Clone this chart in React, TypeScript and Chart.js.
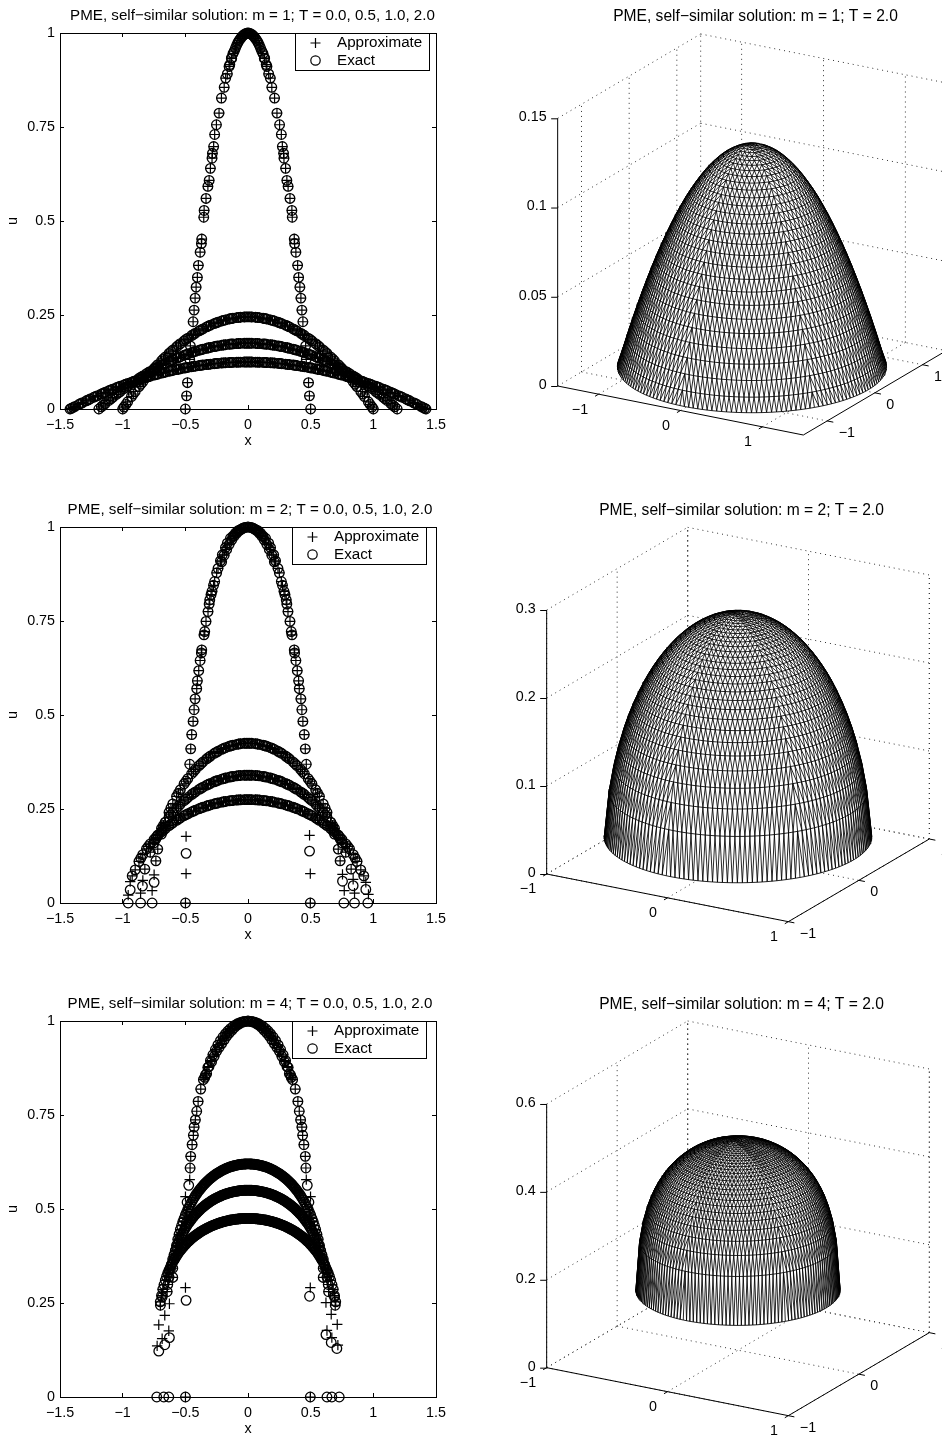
import React, { useEffect, useRef } from "react";
import { Chart, registerables } from "chart.js";

Chart.register(...registerables);
Chart.defaults.font.family = "'Liberation Sans', Arial, sans-serif";
Chart.defaults.color = "#000";

const FONT_PX = 14.3;
const xTicks2D = [-1.5, -1, -0.5, 0, 0.5, 1, 1.5];
const yTicks2D = [0, 0.25, 0.5, 0.75, 1];
const fmt = (v: number) => String(v).replace("-", "\u2212");

// ---------- m = 1 ----------
const m1GridX = [0,.03,.06,.09,.12,.15,.18,.21,.24,.27,.3,.33,.36,.39,.42,.45,.48,.51,.54,.57,.6,.63,.66,.69,.72,.75,.78,.81,.84,.87,.9,.93,.96,.99,1.02,1.05,1.08,1.11,1.14,1.17,1.2,1.23,1.26,1.29,1.32,1.35,1.38,1.41];
const m1T05 = [.245,.2448,.2441,.243,.2415,.2395,.2371,.2342,.2309,.2271,.223,.2183,.2132,.2077,.2018,.1954,.1886,.1813,.1736,.1654,.1568,.1478,.1383,.1283,.118,.1072,.0959,.0843,.0721,.0596,.0466,.0331,.0192,.0049];
const m1T1 = [.175,.1749,.1746,.174,.1732,.1722,.171,.1695,.1679,.166,.1639,.1615,.159,.1562,.1532,.15,.1465,.1429,.139,.1348,.1305,.1259,.1212,.1162,.1109,.1055,.0998,.0939,.0878,.0814,.0749,.0681,.0611,.0539,.0464,.0387,.0308,.0227,.0144,.0058];
const m1T2 = [.125,.1249,.1248,.1245,.1241,.1236,.123,.1223,.1214,.1205,.1194,.1182,.117,.1156,.1141,.1124,.1107,.1089,.1069,.1049,.1027,.1004,.098,.0955,.0929,.0901,.0873,.0843,.0813,.0781,.0748,.0714,.0679,.0642,.0605,.0566,.0527,.0486,.0444,.0401,.0357,.0312,.0266,.0218,.017,.012,.0069,.0017];
const m1Edges = [1.0, 1.19, 1.42];
const m1MidX = [.015,.075,.135,.195,.255,.315,.375,.435,.495,.555,.615,.675,.735,.795,.855,.915,.975,1.035,1.095,1.155,1.215,1.275,1.335,1.395];
const m1T05Mid = [.2449,.2436,.2405,.2357,.229,.2207,.2105,.1986,.185,.1695,.1523,.1333,.1126,.0901,.0659,.0399,.012];
const m1T1Mid = [.175,.1743,.1727,.1703,.167,.1627,.1576,.1516,.1447,.1369,.1282,.1187,.1082,.0969,.0846,.0715,.0575,.0426,.0268,.0101];
const m1T2Mid = [.125,.1247,.1239,.1227,.121,.1188,.1163,.1133,.1098,.1059,.1016,.0968,.0915,.0858,.0797,.0731,.0661,.0586,.0507,.0423,.0335,.0242,.0145,.0043];
const m1T0X = [0,.02,.04,.06,.08,.1,.12,.133,.151,.178,.212,.231,.252,.266,.274,.284,.287,.3,.31,.32,.335,.35,.353,.369,.372,.382,.396,.404,.414,.422,.43,.438,.46,.465,.483,.49,.5];
const m1T0U = [1,.998,.993,.985,.975,.96,.945,.933,.911,.88,.827,.787,.756,.73,.698,.68,.667,.64,.608,.592,.56,.528,.51,.452,.44,.417,.382,.35,.324,.295,.263,.232,.168,.132,.07,.035,0];
const m1T0TopX = [.01,.03,.05,.07,.09,.11,.13,.145,.165,.19];
const m1T0TopU = [.9996,.9964,.99,.9804,.9676,.9516,.9324,.9159,.8911,.8556];

// ---------- m = 2 ----------
const m2GridX = [0,.03,.06,.09,.12,.15,.18,.21,.24,.27,.3,.33,.36,.39,.42,.45,.48,.51,.54,.57,.6,.63,.66,.69,.72,.75,.78,.81,.84,.87,.9];
const m2T05 = [.425,.4247,.4237,.422,.4197,.4167,.4131,.4087,.4035,.3976,.3909,.3834,.375,.3656,.3552,.3437,.3309,.3167,.301,.2834,.2636,.241,.2148,.1834,.1434];
const m2T1 = [.34,.3398,.3392,.3381,.3366,.3347,.3323,.3295,.3262,.3224,.3181,.3133,.308,.3021,.2956,.2884,.2806,.272,.2626,.2522,.2408,.2282,.2143,.1986,.1807,.16,.1351];
const m2T2 = [.275,.2749,.2745,.2738,.2728,.2716,.27,.2682,.2661,.2637,.2609,.2579,.2545,.2508,.2467,.2422,.2373,.232,.2263,.22,.2132,.2058,.1978,.189,.1794,.1688,.157,.1437,.1284,.1105,.088];
const m2MidX = [.015,.075,.135,.195,.255,.315,.375,.435,.495,.555,.615,.675,.735,.795,.855];
const m2T05Mid = [.4249,.4229,.4182,.4109,.4006,.3872,.3703,.3495,.3238,.2922,.2523,.1991];
const m2T1Mid = [.3399,.3387,.3357,.3309,.3243,.3157,.3051,.292,.2763,.2574,.2345,.2065,.1704];
const m2T2Mid = [.275,.2742,.2722,.2691,.2649,.2594,.2527,.2445,.2347,.2232,.2095,.1934,.1741,.1504,.1195];
const m2T0X = [0,.02,.04,.06,.08,.1,.12,.14,.165,.18,.205,.22,.239,.25,.266,.275,.287,.295,.305,.31,.319,.335,.345,.351,.369,.372,.382,.393,.404,.409,.422,.43,.438,.449,.457,.465];
const m2T0U = [1,.999,.997,.993,.99,.984,.976,.97,.957,.945,.926,.91,.89,.878,.855,.845,.829,.82,.806,.795,.775,.749,.722,.713,.673,.665,.645,.618,.591,.57,.543,.514,.483,.448,.41,.369];
const m2T0TopX = [.03,.05,.07,.09,.11,.13,.15,.17,.19,.21];
const m2T0TopU = [.9982,.995,.9902,.9837,.9755,.9656,.9539,.9404,.925,.9075];
const m2Both: number[][] = [[-.735,.112],[.735,.112],[-.823,.09],[.823,.09],[-.924,.072],[.924,.072],[-.499,0],[.497,0]];
const m2Circle: number[][] = [[-.956,0],[-.857,0],[-.765,0],[-.94,.035],[-.842,.045],[-.749,.055],[-.494,.132],[.765,0],[.85,0],[.956,0],[.754,.058],[.839,.046],[.94,.036],[.491,.138]];
const m2Plus: number[][] = [[-.956,.021],[-.857,.026],[-.765,.033],[-.94,.057],[-.839,.06],[-.749,.075],[-.494,.177],[-.494,.078],[.768,.033],[.85,.026],[.961,.023],[.754,.076],[.839,.063],[.94,.055],[.491,.18],[.497,.078]];

// ---------- m = 4 ----------
const m4GridX = [0,.02,.04,.06,.08,.1,.12,.14,.16,.18,.2,.22,.24,.26,.28,.3,.32,.34,.36,.38,.4,.42,.44,.46,.48,.5,.52,.54,.56,.58,.6,.62,.64,.66,.68,.7];
const m4T05 = [.62,.6198,.6194,.6186,.6175,.6161,.6143,.6122,.6098,.6069,.6038,.6001,.5962,.5917,.5869,.5815,.5754,.5689,.5617,.5537,.545,.5353,.5245,.5125,.499,.4836,.4658,.445,.4196,.3874,.3424];
const m4T1 = [.55,.5499,.5495,.5489,.548,.5469,.5455,.5439,.542,.5398,.5373,.5345,.5314,.528,.5242,.52,.5154,.5105,.5051,.4991,.4926,.4855,.4776,.469,.4594,.4487,.4368,.4232,.4075,.3891,.3669,.3386,.2992];
const m4T2 = [.475,.4749,.4746,.4742,.4736,.4728,.4718,.4706,.4692,.4676,.4658,.4638,.4616,.4592,.4565,.4535,.4503,.4467,.443,.4389,.4344,.4296,.4243,.4186,.4123,.4055,.3979,.3896,.3804,.3702,.3585,.3451,.3294,.3105,.2865,.253];
const m4MidX = [.01,.03,.05,.07,.09,.11,.13,.15,.17,.19,.21,.23,.25,.27,.29,.31,.33,.35,.37,.39,.41,.43,.45,.47,.49,.51,.53,.55,.57,.59,.61,.63,.65,.67,.69];
const m4T05Mid = [.6199,.6196,.619,.6181,.6168,.6152,.6133,.611,.6084,.6054,.602,.5982,.594,.5893,.5842,.5785,.5722,.5653,.5577,.5494,.5402,.5299,.5185,.5058,.4913,.4747,.4554,.4323,.4035,.3649];
const m4T1Mid = [.55,.5497,.5492,.5485,.5475,.5462,.5447,.543,.5409,.5386,.5359,.533,.5297,.5261,.5221,.5177,.513,.5078,.5021,.4959,.4891,.4816,.4733,.4642,.4541,.4428,.43,.4154,.3983,.378,.3528,.3189];
const m4T2Mid = [.475,.4748,.4744,.4739,.4732,.4723,.4712,.4699,.4684,.4667,.4648,.4627,.4604,.4579,.455,.4519,.4485,.4449,.441,.4367,.432,.427,.4215,.4155,.4089,.4017,.3938,.385,.3753,.3644,.3518,.3373,.32,.2985,.2698];
const m4T0X = [0,.015,.03,.05,.07,.09,.11,.13,.15,.17,.19,.21,.23,.25,.27,.29,.311,.33,.345,.356,.377,.398,.409,.42,.43,.436,.446,.457,.462];
const m4T0U = [1,.999,.998,.996,.992,.988,.982,.975,.968,.96,.95,.94,.93,.92,.906,.892,.879,.86,.85,.844,.819,.786,.76,.737,.718,.696,.671,.64,.609];
const m4T0TopX = [.04,.06,.08,.1,.12,.14,.16,.18,.2,.22,.24,.26,.28,.3,.32,.34];
const m4T0TopU = [.9984,.9964,.9935,.9898,.9853,.9798,.9733,.9659,.9573,.9476,.9366,.9242,.9102,.8944,.8766,.8563];
const m4Both: number[][] = [[-.699,.244],[.696,.244],[-.685,.266],[.69,.266],[-.645,.28],[.643,.28],[-.6,.318],[.6,.318],[-.499,0],[.497,0]];
const m4Circle: number[][] = [[-.728,0],[-.672,0],[-.632,0],[.63,0],[.669,0],[.728,0],[-.627,.158],[-.664,.139],[-.712,.122],[.622,.166],[.664,.145],[.709,.129],[-.494,.257],[.491,.268],[-.473,.563],[.473,.563],[-.486,.518],[.486,.518]];
const m4Plus: number[][] = [[-.725,.136],[-.685,.155],[-.632,.176],[-.712,.192],[-.664,.217],[-.627,.248],[.717,.138],[.669,.158],[.63,.177],[.712,.193],[.664,.22],[.622,.251],[-.499,.291],[.497,.291],[-.465,.578],[.465,.578],[-.499,.533],[.499,.533]];

// ---------- 3D surfaces at T = 2: ring heights, centre to boundary ----------
const ringFractions = [0,.0357,.0714,.1071,.1429,.1786,.2143,.25,.2857,.3214,.3571,.3929,.4286,.4643,.5,.5357,.5714,.6071,.6429,.6786,.7143,.75,.7857,.8214,.8571,.8929,.9286,.9643,1];
const ringM1 = [.125,.1248,.1244,.1236,.1224,.121,.1193,.1172,.1148,.1121,.1091,.1057,.102,.0981,.0938,.0891,.0842,.0789,.0733,.0674,.0612,.0547,.0478,.0407,.0332,.0254,.0172,.0088,.001];
const ringM2 = [.275,.2748,.2743,.2734,.2722,.2706,.2686,.2663,.2635,.2604,.2569,.2529,.2485,.2436,.2382,.2322,.2257,.2185,.2106,.202,.1925,.1819,.1701,.1568,.1416,.1238,.1021,.0728,.022];
const ringM4 = [.475,.4748,.4744,.4736,.4726,.4712,.4695,.4674,.465,.4622,.4591,.4555,.4515,.447,.442,.4365,.4303,.4234,.4157,.4071,.3974,.3863,.3736,.3587,.3409,.3188,.2894,.2445,.136];

type P = { x: number; y: number };
const GAP: P = { x: NaN, y: NaN };

function curve(grid: number[], u: number[], edge?: number): number[][] {
  const half = u.map((v, i) => [grid[i], v]);
  if (edge !== undefined) half.push([edge, 0]);
  const out: number[][] = [];
  half.forEach(([x, v]) => {
    out.push([x, v]);
    if (x !== 0) out.push([-x, v]);
  });
  return out;
}
const toP = (a: number[][]): P[] => a.map(([x, y]) => ({ x, y }));

const legendPlugin = (left: number) => ({
  id: "boxLegend",
  afterDatasetsDraw(chart: any) {
    const c = chart.ctx;
    const top = chart.chartArea.top;
    const w = 134, h = 37;
    c.save();
    c.fillStyle = "#fff";
    c.strokeStyle = "#000";
    c.lineWidth = 1;
    c.fillRect(left, top, w, h);
    c.strokeRect(left + 0.5, top + 0.5, w, h);
    c.fillStyle = "#000";
    c.font = `15.2px 'Liberation Sans', Arial, sans-serif`;
    c.textBaseline = "middle";
    const ds = chart.data.datasets;
    c.fillText(ds[0].label, left + 42, top + 10);
    c.fillText(ds[1].label, left + 42, top + 27.5);
    const mx = left + 20.5;
    c.lineWidth = 1.2;
    c.beginPath();
    c.moveTo(mx - 5, top + 10); c.lineTo(mx + 5, top + 10);
    c.moveTo(mx, top + 5); c.lineTo(mx, top + 15);
    c.moveTo(mx + 4.7, top + 27.5);
    c.arc(mx, top + 27.5, 4.7, 0, Math.PI * 2);
    c.stroke();
    c.restore();
  },
});

function Plot2D({ top, title, plus, circle, legendLeft, titleCentre }: { top: number; title: string; plus: number[][]; circle: number[][]; legendLeft: number; titleCentre: number }) {
  const ref = useRef<HTMLCanvasElement>(null);
  const width = 2 * titleCentre;
  useEffect(() => {
    const fixW = (w: number) => (s: any) => { s.width = w; };
    const fixH = (h: number) => (s: any) => { s.height = h; };
    const setX = (s: any) => { s.ticks = xTicks2D.map((value) => ({ value })); };
    const setY = (s: any) => { s.ticks = yTicks2D.map((value) => ({ value })); };
    const grid = { drawOnChartArea: false, drawTicks: true, tickLength: -4, color: "#000", tickWidth: 1 };
    const border = { color: "#000", width: 1 };
    const font = { size: FONT_PX };
    const chart = new Chart(ref.current!, {
      type: "scatter",
      data: {
        datasets: [
          { label: "Approximate", data: toP(plus), pointStyle: "cross", pointRadius: 5.2, borderColor: "#000", backgroundColor: "rgba(0,0,0,0)", pointBorderWidth: 1.2, clip: false },
          { label: "Exact", data: toP(circle), pointStyle: "circle", pointRadius: 4.8, borderColor: "#000", backgroundColor: "rgba(0,0,0,0)", pointBorderWidth: 1.3, clip: false },
        ],
      } as any,
      options: {
        responsive: false,
        animation: false,
        events: [],
        layout: { padding: 0 },
        plugins: {
          legend: { display: false },
          tooltip: { enabled: false },
          title: { display: true, text: title, color: "#000", font: { size: 15.15, weight: "normal", lineHeight: 16 / 15.15 }, padding: { top: 8, bottom: 9 } },
        },
        scales: {
          x: { type: "linear", position: "bottom", min: -1.5, max: 1.5, afterFit: fixH(45), afterBuildTicks: setX, grid, border,
            title: { display: true, text: "x", font, padding: 4.6, color: "#000" },
            ticks: { font, padding: 11, maxRotation: 0, autoSkip: false, callback: (v: any) => fmt(v), color: "#000" } },
          xTop: { type: "linear", position: "top", min: -1.5, max: 1.5, afterFit: fixH(0), afterBuildTicks: setX, grid, border, ticks: { display: false } },
          y: { type: "linear", position: "left", min: 0, max: 1, afterFit: fixW(60), afterBuildTicks: setY, grid, border,
            title: { display: true, text: "u", font, padding: 4.6, color: "#000" },
            ticks: { font, padding: 9, autoSkip: false, callback: (v: any) => fmt(v), color: "#000" } },
          yR: { type: "linear", position: "right", min: 0, max: 1, afterFit: fixW(width - 436), afterBuildTicks: setY, grid, border, ticks: { display: false } },
        },
      } as any,
      plugins: [legendPlugin(legendLeft)] as any,
    });
    return () => chart.destroy();
  }, []);
  return <canvas ref={ref} width={width} height={454} style={{ position: "absolute", left: 0, top, display: "block" }} />;
}

type Spec3D = {
  left: number; top: number; width: number; height: number; title: string;
  L: number[]; F: number[]; R: number[]; zPx: number; range: number; zMax: number;
  radius: number; rings: number[]; zTicks: number[];
};
const hvTicks = [-1, 0, 1];

function Plot3D({ s }: { s: Spec3D }) {
  const ref = useRef<HTMLCanvasElement>(null);
  useEffect(() => {
    const { L, F, R, range, zMax, zPx } = s;
    const proj = (x: number, y: number, z: number): P => {
      const a = (x + range) / (2 * range), b = (y + range) / (2 * range);
      return {
        x: L[0] + a * (F[0] - L[0]) + b * (R[0] - F[0]),
        y: L[1] + a * (F[1] - L[1]) + b * (R[1] - F[1]) - (z / zMax) * zPx,
      };
    };
    const stagger = (k: number) => (k % 2 ? 0.5 : 0);
    const ringsXYZ: number[][][] = s.rings.map((z, k) => {
      const n = k === 0 ? 1 : 6 * k;
      const r = ringFractions[k] * s.radius;
      const out: number[][] = [];
      for (let j = 0; j < n; j++) {
        const t = (2 * Math.PI * (j + stagger(k))) / n;
        out.push([r * Math.cos(t), r * Math.sin(t), z]);
      }
      return out;
    });
    const segs: P[] = [];
    const seen = new Set<string>();
    const addEdge = (ka: number, ia: number, kb: number, ib: number) => {
      const a = `${ka}:${ia}`, b = `${kb}:${ib}`;
      const key = a < b ? a + "|" + b : b + "|" + a;
      if (seen.has(key)) return;
      seen.add(key);
      const pa = ringsXYZ[ka][ia], pb = ringsXYZ[kb][ib];
      segs.push(proj(pa[0], pa[1], pa[2]), proj(pb[0], pb[1], pb[2]), GAP);
    };
    const tri = (ka: number, ia: number, kb: number, ib: number, kc: number, ic: number) => {
      const A = ringsXYZ[ka][ia], B = ringsXYZ[kb][ib], C = ringsXYZ[kc][ic];
      const pa = proj(A[0], A[1], A[2]), pb = proj(B[0], B[1], B[2]), pc = proj(C[0], C[1], C[2]);
      const area = (pb.x - pa.x) * (pc.y - pa.y) - (pb.y - pa.y) * (pc.x - pa.x);
      if (area >= 0) return;
      addEdge(ka, ia, kb, ib); addEdge(kb, ib, kc, ic); addEdge(kc, ic, ka, ia);
    };
    for (let k = 0; k < ringsXYZ.length - 1; k++) {
      const n1 = ringsXYZ[k].length, n2 = ringsXYZ[k + 1].length;
      const o1 = stagger(k), o2 = stagger(k + 1);
      let i = 0, j = 0;
      while (i < n1 || j < n2) {
        const aIn = (i + 1 + o1) / n1, aOut = (j + 1 + o2) / n2;
        if (i >= n1 || (j < n2 && aOut <= aIn)) {
          tri(k, i % n1, k + 1, j % n2, k + 1, (j + 1) % n2);
          j++;
        } else {
          tri(k, i % n1, k + 1, j % n2, k, (i + 1) % n1);
          i++;
        }
      }
    }
    const all = ringsXYZ.flat().map((p) => proj(p[0], p[1], p[2])).sort((a, b) => a.x - b.x || a.y - b.y);
    const cross = (o: P, a: P, b: P) => (a.x - o.x) * (b.y - o.y) - (a.y - o.y) * (b.x - o.x);
    const lo: P[] = [];
    for (const p of all) { while (lo.length >= 2 && cross(lo[lo.length - 2], lo[lo.length - 1], p) <= 0) lo.pop(); lo.push(p); }
    const up: P[] = [];
    for (const p of [...all].reverse()) { while (up.length >= 2 && cross(up[up.length - 2], up[up.length - 1], p) <= 0) up.pop(); up.push(p); }
    const hull = [...lo.slice(0, -1), ...up];

    const r = range;
    const dotted: P[] = [];
    const line = (arr: P[], a: number[], b: number[]) => arr.push(proj(a[0], a[1], a[2]), proj(b[0], b[1], b[2]), GAP);
    const zLines = [0, ...s.zTicks.filter((z) => z > 0)];
    zLines.forEach((z) => {
      line(dotted, [-r, -r, z], [-r, r, z]);
      line(dotted, [-r, r, z], [r, r, z]);
    });
    line(dotted, [-r, r, 0], [-r, r, zMax]);
    line(dotted, [r, r, 0], [r, r, zMax]);
    hvTicks.forEach((t) => {
      line(dotted, [t, -r, 0], [t, r, 0]);
      line(dotted, [-r, t, 0], [r, t, 0]);
      line(dotted, [-r, t, 0], [-r, t, zMax]);
      line(dotted, [t, r, 0], [t, r, zMax]);
    });
    const solid: P[] = [];
    line(solid, [-r, -r, 0], [-r, -r, zMax]);
    line(solid, [-r, -r, 0], [r, -r, 0]);
    line(solid, [r, -r, 0], [r, r, 0]);
    const tk = 0.05 * r;
    hvTicks.forEach((t) => {
      line(solid, [t, -r, 0], [t, -r - tk, 0]);
      line(solid, [r, t, 0], [r + tk, t, 0]);
    });

    const labelPlugin = {
      id: "axes3d",
      afterDraw(chart: any) {
        const c = chart.ctx, sx = chart.scales.x, sy = chart.scales.y;
        const px = (p: P) => [sx.getPixelForValue(p.x), sy.getPixelForValue(p.y)];
        c.save();
        c.fillStyle = "#000";
        c.strokeStyle = "#000";
        c.lineWidth = 1;
        c.font = `${FONT_PX}px 'Liberation Sans', Arial, sans-serif`;
        c.textBaseline = "middle";
        c.textAlign = "right";
        s.zTicks.forEach((z) => {
          const [a, b] = px(proj(-r, -r, z));
          c.beginPath(); c.moveTo(a - 6.5, b + 0.5); c.lineTo(a, b + 0.5); c.stroke();
          c.fillText(fmt(z), a - 11, b - 1);
        });
        hvTicks.forEach((t) => {
          const [a, b] = px(proj(t, -r, 0));
          c.textAlign = "right";
          c.fillText(fmt(t), a - 10.5, b + 15.5);
          const [e, f] = px(proj(r, t, 0));
          c.textAlign = "left";
          c.fillText(fmt(t), e + 11.5, f + 12);
        });
        c.restore();
      },
    };

    const chart = new Chart(ref.current!, {
      type: "scatter",
      data: {
        datasets: [
          { label: "grid", data: dotted, showLine: true, pointRadius: 0, borderColor: "#333", borderWidth: 1, borderDash: [1, 4], order: 4, clip: false, spanGaps: false },
          { label: "hidden", data: hull, showLine: true, pointRadius: 0, borderWidth: 0, borderColor: "rgba(0,0,0,0)", backgroundColor: "#fff", fill: "shape", order: 3, clip: false },
          { label: "axes", data: solid, showLine: true, pointRadius: 0, borderColor: "#000", borderWidth: 1, order: 2, clip: false, spanGaps: false },
          { label: "u", data: segs, showLine: true, pointRadius: 0, borderColor: "#000", borderWidth: 0.85, order: 1, clip: false, spanGaps: false },
        ],
      } as any,
      options: {
        responsive: false,
        animation: false,
        events: [],
        layout: { padding: 0 },
        plugins: {
          legend: { display: false },
          tooltip: { enabled: false },
          title: { display: true, text: s.title, color: "#000", font: { size: 15.6, weight: "normal", lineHeight: 16 / 15.6 }, padding: { top: 8, bottom: 8 } },
        },
        scales: {
          x: { type: "linear", display: false, min: s.left, max: s.left + s.width },
          y: { type: "linear", display: false, reverse: true, min: s.top + 32, max: s.top + s.height },
        },
      } as any,
      plugins: [labelPlugin] as any,
    });
    return () => chart.destroy();
  }, []);
  return <canvas ref={ref} width={s.width} height={s.height} style={{ position: "absolute", left: s.left, top: s.top, display: "block" }} />;
}

const plus1 = [
  ...curve(m1T0X, m1T0U), ...curve(m1T0TopX, m1T0TopU),
  ...curve(m1GridX, m1T05, m1Edges[0]), ...curve(m1GridX, m1T1, m1Edges[1]), ...curve(m1GridX, m1T2, m1Edges[2]),
  ...curve(m1MidX, m1T05Mid), ...curve(m1MidX, m1T1Mid), ...curve(m1MidX, m1T2Mid),
];
const curves2 = [
  ...curve(m2T0X, m2T0U), ...curve(m2T0TopX, m2T0TopU),
  ...curve(m2GridX, m2T05), ...curve(m2GridX, m2T1), ...curve(m2GridX, m2T2),
  ...curve(m2MidX, m2T05Mid), ...curve(m2MidX, m2T1Mid), ...curve(m2MidX, m2T2Mid), ...m2Both,
];
const curves4 = [
  ...curve(m4T0X, m4T0U), ...curve(m4T0TopX, m4T0TopU),
  ...curve(m4GridX, m4T05), ...curve(m4GridX, m4T1), ...curve(m4GridX, m4T2),
  ...curve(m4MidX, m4T05Mid), ...curve(m4MidX, m4T1Mid), ...curve(m4MidX, m4T2Mid), ...m4Both,
];

const spec1: Spec3D = { left: 490, top: 1, width: 531, height: 459, title: "PME, self\u2212similar solution: m = 1; T = 2.0", L: [557.67, 386], F: [803.33, 435], R: [946.33, 350.67], zPx: 267.7, range: 1.5, zMax: 0.15, radius: 1.42, rings: ringM1, zTicks: [0, 0.05, 0.1, 0.15] };
const spec2: Spec3D = { left: 490, top: 495, width: 503, height: 459, title: "PME, self\u2212similar solution: m = 2; T = 2.0", L: [546.67, 874], F: [788.33, 921.67], R: [929.33, 839], zPx: 264, range: 1, zMax: 0.3, radius: 0.956, rings: ringM2, zTicks: [0, 0.1, 0.2, 0.3] };
const spec3: Spec3D = { left: 490, top: 989, width: 503, height: 448, title: "PME, self\u2212similar solution: m = 4; T = 2.0", L: [546.67, 1367.67], F: [788.33, 1415.67], R: [929.33, 1332.67], zPx: 263.7, range: 1, zMax: 0.6, radius: 0.73, rings: ringM4, zTicks: [0, 0.2, 0.4, 0.6] };

export default function App() {
  return (
    <div style={{ position: "absolute", left: 0, top: 0, width: 942, height: 1437, overflow: "hidden", background: "#fff" }}>
      <Plot2D top={0} titleCentre={252.5} title={"PME, self\u2212similar solution: m = 1; T = 0.0, 0.5, 1.0, 2.0"} plus={plus1} circle={plus1} legendLeft={295} />
      <Plot3D s={spec1} />
      <Plot2D top={494} titleCentre={250} title={"PME, self\u2212similar solution: m = 2; T = 0.0, 0.5, 1.0, 2.0"} plus={[...curves2, ...m2Plus]} circle={[...curves2, ...m2Circle]} legendLeft={292} />
      <Plot3D s={spec2} />
      <Plot2D top={988} titleCentre={250} title={"PME, self\u2212similar solution: m = 4; T = 0.0, 0.5, 1.0, 2.0"} plus={[...curves4, ...m4Plus]} circle={[...curves4, ...m4Circle]} legendLeft={292} />
      <Plot3D s={spec3} />
    </div>
  );
}
